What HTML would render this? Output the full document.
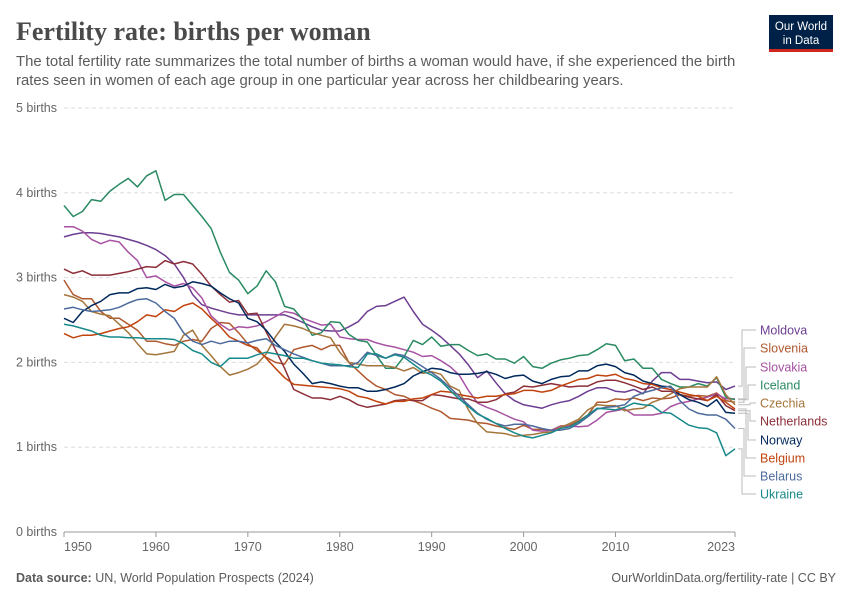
<!DOCTYPE html>
<html><head><meta charset="utf-8"><style>
body{margin:0;background:#fff;width:850px;height:600px;overflow:hidden;font-family:"Liberation Sans",sans-serif}
</style></head><body>
<svg id="chart" width="850" height="600" xmlns="http://www.w3.org/2000/svg">
<text x="16" y="40" font-family="Liberation Serif,serif" font-weight="bold" font-size="26" fill="#4a4a4a">Fertility rate: births per woman</text>
<text x="16" y="66" font-size="14.9" fill="#5b5b5b">The total fertility rate summarizes the total number of births a woman would have, if she experienced the birth</text>
<text x="16" y="85" font-size="14.9" fill="#5b5b5b">rates seen in women of each age group in one particular year across her childbearing years.</text>
<g><rect x="769" y="15" width="64" height="34" fill="#002147"/><rect x="769" y="49" width="64" height="3" fill="#ce261e"/>
<text x="801" y="30" font-size="11.5" fill="#fff" text-anchor="middle">Our World</text><text x="801" y="44" font-size="11.5" fill="#fff" text-anchor="middle">in Data</text></g>
<g id="grid"></g><g id="lines"></g><g id="legend"></g>
<text x="16" y="582" font-size="12.5" fill="#5b5b5b"><tspan font-weight="bold">Data source:</tspan> UN, World Population Prospects (2024)</text>
<text x="836" y="582" font-size="12.5" fill="#5b5b5b" text-anchor="end">OurWorldinData.org/fertility-rate | CC BY</text>
</svg>
<script>
const startYear=1950;
const yTicks=[0,1,2,3,4,5];
const xTicks=[1950,1960,1970,1980,1990,2000,2010,2023];
const names=["Moldova","Slovenia","Slovakia","Iceland","Czechia","Netherlands","Norway","Belgium","Belarus","Ukraine"];
const colors=["#6d3e91","#b0582f","#a752a2","#2a8a62","#a5763c","#8c2f39","#00295b","#c1440e","#4c6a9c","#18898a"];
const moldova=[3.48,3.51,3.53,3.53,3.52,3.5,3.48,3.45,3.42,3.38,3.33,3.26,3.16,3.0,2.8,2.68,2.64,2.61,2.58,2.56,2.56,2.56,2.56,2.56,2.56,2.52,2.47,2.42,2.38,2.37,2.37,2.42,2.48,2.6,2.66,2.67,2.72,2.77,2.6,2.45,2.38,2.3,2.2,2.1,1.97,1.82,1.9,1.76,1.63,1.55,1.5,1.48,1.46,1.5,1.53,1.55,1.6,1.66,1.7,1.7,1.66,1.65,1.68,1.63,1.78,1.88,1.88,1.8,1.8,1.78,1.76,1.77,1.68,1.72];
const slovenia=[2.97,2.8,2.75,2.75,2.6,2.52,2.52,2.45,2.38,2.25,2.25,2.22,2.2,2.25,2.27,2.25,2.4,2.47,2.46,2.35,2.22,2.14,2.06,2.0,1.98,2.15,2.18,2.2,2.15,2.2,2.2,2.0,1.9,1.8,1.72,1.68,1.62,1.6,1.55,1.51,1.46,1.42,1.34,1.33,1.32,1.29,1.28,1.25,1.23,1.21,1.26,1.21,1.21,1.2,1.25,1.26,1.31,1.38,1.53,1.53,1.57,1.56,1.58,1.55,1.58,1.57,1.58,1.62,1.6,1.61,1.6,1.64,1.55,1.53];
const slovakia=[3.6,3.6,3.55,3.45,3.4,3.44,3.42,3.3,3.2,3.0,3.02,2.95,2.9,2.93,2.88,2.76,2.55,2.45,2.38,2.42,2.41,2.43,2.48,2.54,2.6,2.58,2.52,2.48,2.44,2.45,2.3,2.28,2.27,2.27,2.23,2.2,2.18,2.15,2.12,2.07,2.08,2.02,1.95,1.85,1.67,1.52,1.47,1.43,1.38,1.33,1.3,1.2,1.19,1.2,1.24,1.25,1.24,1.25,1.32,1.41,1.43,1.45,1.38,1.38,1.38,1.4,1.48,1.52,1.54,1.57,1.59,1.63,1.57,1.57];
const iceland=[3.85,3.72,3.78,3.92,3.9,4.02,4.1,4.17,4.07,4.2,4.26,3.91,3.98,3.98,3.85,3.72,3.58,3.3,3.06,2.97,2.81,2.9,3.08,2.95,2.66,2.63,2.5,2.32,2.35,2.48,2.47,2.33,2.26,2.24,2.08,1.93,1.93,2.07,2.26,2.21,2.3,2.19,2.21,2.21,2.14,2.08,2.1,2.04,2.04,1.99,2.07,1.95,1.93,1.99,2.03,2.05,2.08,2.09,2.15,2.22,2.2,2.02,2.04,1.93,1.93,1.8,1.75,1.71,1.71,1.75,1.72,1.82,1.59,1.56];
const czechia=[2.8,2.77,2.72,2.6,2.57,2.55,2.45,2.35,2.22,2.1,2.09,2.11,2.13,2.32,2.38,2.2,2.08,1.95,1.85,1.88,1.92,1.98,2.1,2.3,2.45,2.43,2.4,2.35,2.32,2.29,2.12,2.0,1.98,1.96,1.96,1.96,1.94,1.9,1.94,1.87,1.89,1.86,1.72,1.67,1.44,1.28,1.18,1.17,1.16,1.13,1.14,1.15,1.17,1.18,1.23,1.28,1.33,1.44,1.5,1.49,1.49,1.43,1.45,1.46,1.53,1.57,1.63,1.69,1.71,1.71,1.71,1.83,1.62,1.5];
const netherlands=[3.1,3.05,3.08,3.03,3.03,3.03,3.05,3.07,3.1,3.13,3.12,3.2,3.16,3.19,3.16,3.04,2.9,2.8,2.71,2.73,2.57,2.58,2.36,2.15,1.93,1.68,1.63,1.58,1.58,1.56,1.6,1.56,1.5,1.47,1.49,1.51,1.55,1.56,1.55,1.55,1.62,1.61,1.59,1.57,1.57,1.53,1.53,1.56,1.63,1.65,1.72,1.71,1.73,1.75,1.73,1.71,1.72,1.72,1.77,1.79,1.79,1.76,1.72,1.68,1.71,1.66,1.66,1.62,1.59,1.57,1.55,1.62,1.49,1.43];
const norway=[2.52,2.47,2.6,2.67,2.72,2.8,2.82,2.82,2.87,2.88,2.86,2.92,2.88,2.9,2.95,2.93,2.9,2.82,2.75,2.7,2.52,2.48,2.38,2.24,2.13,1.98,1.87,1.75,1.77,1.75,1.72,1.7,1.7,1.66,1.66,1.68,1.71,1.75,1.84,1.89,1.93,1.92,1.88,1.86,1.86,1.87,1.89,1.86,1.81,1.84,1.85,1.78,1.75,1.8,1.83,1.84,1.9,1.9,1.96,1.98,1.95,1.88,1.85,1.78,1.75,1.72,1.71,1.62,1.56,1.53,1.48,1.56,1.41,1.4];
const belgium=[2.34,2.29,2.32,2.32,2.34,2.37,2.4,2.42,2.48,2.56,2.54,2.62,2.6,2.67,2.7,2.63,2.52,2.42,2.3,2.25,2.2,2.17,2.05,1.93,1.82,1.74,1.73,1.72,1.71,1.7,1.69,1.66,1.6,1.58,1.54,1.51,1.54,1.54,1.57,1.58,1.62,1.66,1.65,1.62,1.6,1.58,1.6,1.6,1.62,1.63,1.67,1.67,1.65,1.67,1.72,1.76,1.8,1.81,1.85,1.84,1.86,1.81,1.79,1.75,1.74,1.7,1.68,1.65,1.62,1.6,1.55,1.6,1.53,1.45];
const belarus=[2.63,2.65,2.62,2.6,2.61,2.62,2.65,2.7,2.74,2.75,2.7,2.6,2.52,2.35,2.25,2.21,2.25,2.22,2.25,2.25,2.23,2.26,2.28,2.2,2.15,2.1,2.06,2.02,1.99,1.96,1.96,1.96,2.0,2.12,2.08,2.05,2.1,2.08,2.02,1.95,1.88,1.8,1.7,1.6,1.5,1.4,1.33,1.28,1.25,1.27,1.27,1.25,1.22,1.2,1.2,1.22,1.28,1.36,1.45,1.47,1.48,1.5,1.6,1.64,1.67,1.7,1.72,1.55,1.45,1.4,1.38,1.38,1.33,1.22];
const ukraine=[2.45,2.43,2.4,2.37,2.32,2.3,2.3,2.29,2.29,2.28,2.28,2.28,2.27,2.22,2.14,2.1,2.0,1.95,2.05,2.05,2.05,2.09,2.12,2.1,2.08,2.05,2.05,2.02,1.99,1.98,1.97,1.95,1.94,2.1,2.1,2.05,2.09,2.06,1.98,1.9,1.85,1.78,1.67,1.57,1.48,1.39,1.34,1.28,1.22,1.17,1.13,1.11,1.14,1.17,1.22,1.24,1.3,1.38,1.46,1.45,1.44,1.47,1.52,1.5,1.49,1.41,1.4,1.33,1.26,1.23,1.22,1.17,0.9,0.98];
const series=[moldova,slovenia,slovakia,iceland,czechia,netherlands,norway,belgium,belarus,ukraine];
const X0=64,X1=735,Y0=532,Y1=108;
const xs=y=>X0+(y-1950)*(X1-X0)/(2023-1950);
const ys=v=>Y0-v*(Y0-Y1)/5;
const NS="http://www.w3.org/2000/svg";
function mk(t,a,p){const e=document.createElementNS(NS,t);for(const k in a)e.setAttribute(k,a[k]);p.appendChild(e);return e;}
const grid=document.getElementById('grid');
yTicks.forEach(t=>{
 const l=mk('line',{x1:X0,x2:X1,y1:ys(t),y2:ys(t),stroke:t===0?'#999':'#ddd','stroke-dasharray':t===0?'':'4,3'},grid);
 
 
 const tx=mk('text',{x:16,y:ys(t)+4,'font-size':12.5,fill:'#666'},grid);tx.textContent=t+' births';
 
 
});
xTicks.forEach((t,i)=>{
 const x=xs(t);
 const l=mk('line',{x1:x,x2:x,y1:Y0,y2:Y0+5,stroke:'#999'},grid);
 
 
 const tx=mk('text',{x:x,y:Y0+19,'font-size':12.5,fill:'#666','text-anchor':i===0?'start':(i===xTicks.length-1?'end':'middle')},grid);tx.textContent=t;
 
 
});
const lines=document.getElementById('lines');
series.forEach((s,i)=>{
 const pts=s.map((v,k)=>xs(startYear+k).toFixed(1)+','+ys(v).toFixed(1)).join(' ');
 const p=mk('polyline',{points:pts,fill:'none',stroke:colors[i],'stroke-width':1.5,'stroke-linejoin':'round'},lines);
 
 
});
const leg=document.getElementById('legend');
const labelY=[330,348,367,385,403,421,440,458,476,494];
const bx=[742,744,746,748,750,750,748,746,744,742];
series.forEach((s,i)=>{
 const ye=ys(s[s.length-1]);const ly=labelY[i];
 const c=mk('polyline',{points:`${X1+3},${ye} ${bx[i]},${ye} ${bx[i]},${ly} ${756},${ly}`,fill:'none',stroke:'#bbb','stroke-width':1},leg);
 
 
 const t=mk('text',{x:760,y:ly+4.5,'font-size':12.5,fill:colors[i]},leg);t.textContent=names[i];
 
 
});
</script>
</body></html>
